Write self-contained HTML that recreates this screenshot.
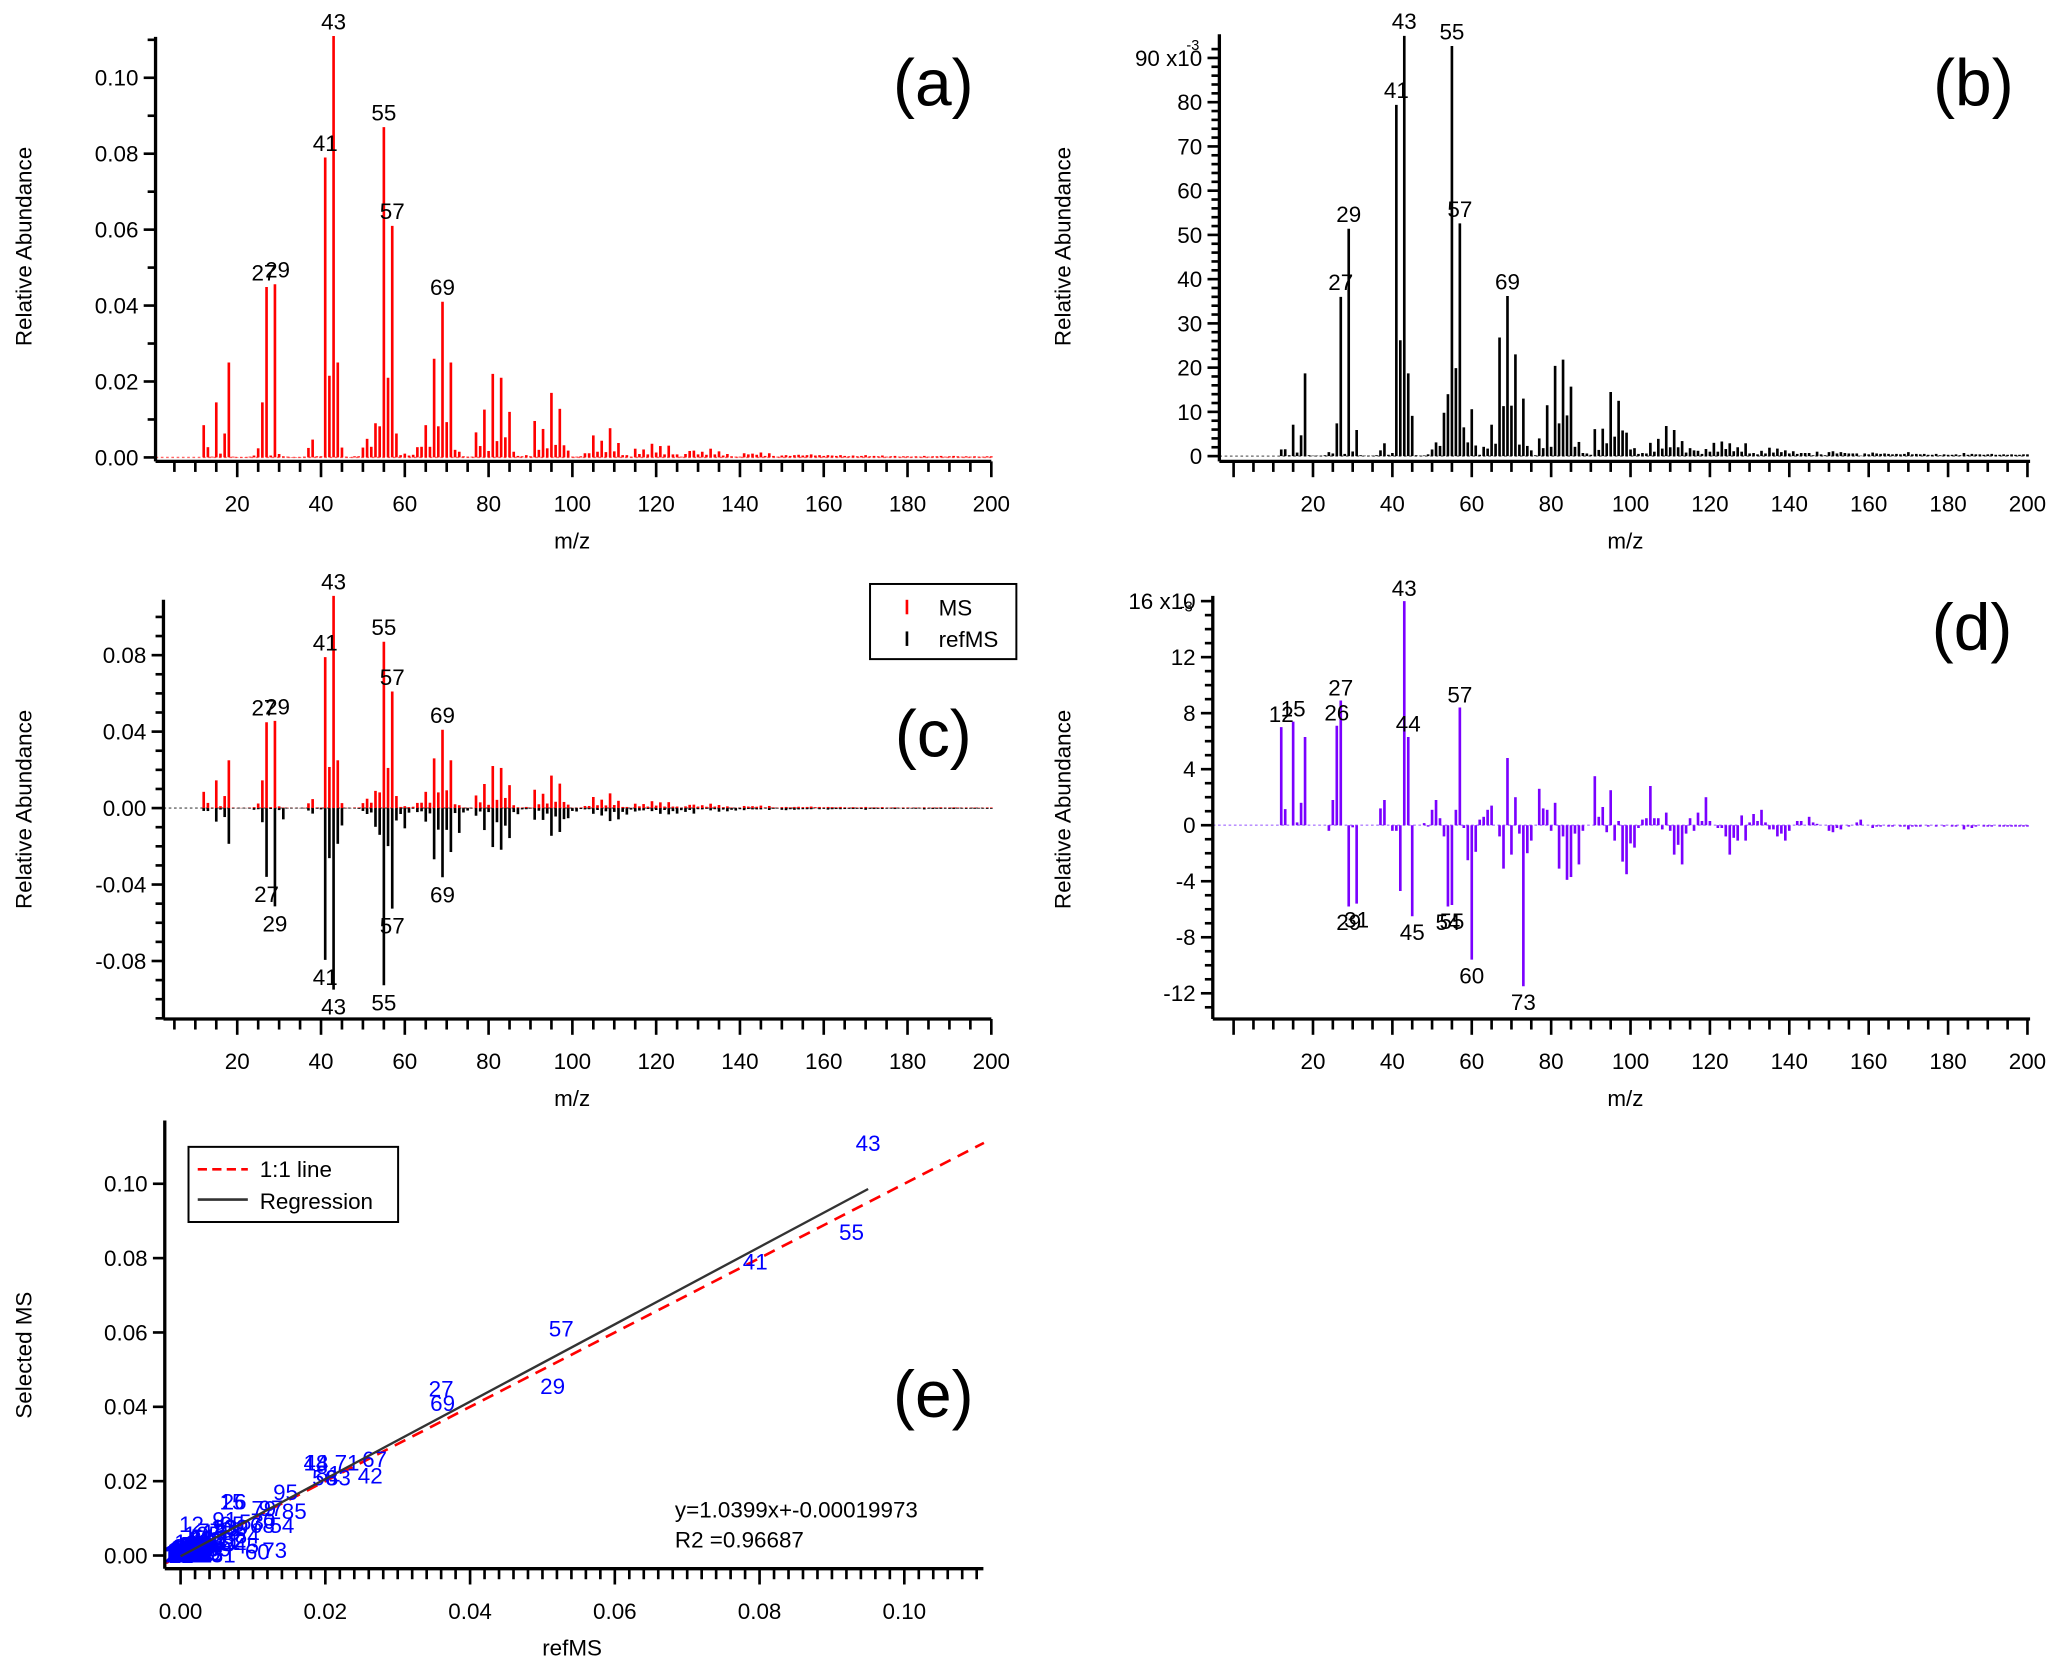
<!DOCTYPE html>
<html><head><meta charset="utf-8"><style>
html,body{margin:0;padding:0;background:#fff;}
svg{display:block;font-family:"Liberation Sans",Arial,sans-serif;}
</style></head><body>
<svg id="fig" xmlns="http://www.w3.org/2000/svg" width="2067" height="1676" viewBox="0 0 1568 1271.4" preserveAspectRatio="none"></svg>
<script>
// m/z 12..200
const mzStart = 12;
const msVals = [8.5,2.7,0.2,14.5,1,6.3,25,0.2,0.1,0.1,0.1,0.2,0.5,2.4,14.5,44.9,0.5,45.6,0.9,0.3,0.2,0.1,0.1,0.1,0.2,2.5,4.7,0.3,0.3,79,21.5,111,25,2.6,0.2,0.1,0.3,0.3,2.6,4.9,2.8,9,8.2,87,21,61,6.3,0.6,1,0.5,0.7,2.7,2.8,8.5,2.8,26,8.2,41,9.3,25,2,1.5,0.3,0.2,0.2,6.6,3,12.6,1.7,22,4.3,21,5.3,12,1.5,0.4,0.3,0.6,0.3,9.6,2,7.5,2.4,17,3.3,12.8,3.2,1.8,0.2,0.2,0.3,1.1,1.1,5.8,1.5,4.4,1.4,7.7,1.6,3.8,0.6,0.6,0.2,2.3,0.9,2.1,0.8,3.6,1.3,3,0.8,3.1,0.8,0.8,0.2,0.9,1.7,1.8,0.8,1.5,0.7,2.3,0.8,1.6,0.5,0.9,0.3,0.2,0.2,1.1,0.8,1,0.7,1.3,0.4,1.1,0.4,0.2,0.5,0.6,0.4,0.6,0.7,0.5,0.6,0.8,0.5,0.6,0.4,0.6,0.5,0.4,0.6,0.4,0.3,0.5,0.3,0.4,0.6,0.3,0.4,0.3,0.5,0.2,0.3,0.4,0.2,0.3,0.3,0.2,0.3,0.2,0.4,0.2,0.3,0.3,0.4,0.2,0.3,0.4,0.3,0.2,0.3,0.2,0.3,0.2,0.2,0.3,0.3];
const diffVals = [7.0,1.15,0,7.4,0.2,1.6,6.3,0,0,0,0,0,-0.4,1.8,7.1,8.9,0,-5.8,-0.15,-5.6,0,0,0,0,0,1.2,1.8,0,-0.4,-0.4,-4.7,16,6.3,-6.5,0,0,0.15,-0.1,1.1,1.8,0.5,-0.8,-5.8,-5.7,1.1,8.4,-0.2,-2.5,-9.6,-1.9,0.4,0.6,1.1,1.4,0,-0.8,-3.1,4.8,-2.1,2.0,-0.6,-11.5,-2,-1.1,0,2.6,1.2,1.1,-0.4,1.6,-3.1,-0.8,-3.9,-3.7,-0.6,-2.8,-0.4,0,0,3.5,0.6,1.3,-0.5,2.5,-1.1,0.3,-2.6,-3.5,-1.3,-1.6,-0.2,0.4,0.5,2.8,0.5,0.5,-0.3,0.9,-0.4,-2.1,-1.4,-2.8,-0.6,0.5,-0.4,0.9,0.3,2.0,0.3,0,-0.2,-0.2,-0.8,-2.1,-0.9,-1.1,0.7,-1.1,0.2,0.8,0.3,1.1,0.2,-0.3,-0.3,-0.8,-0.6,-1.1,-0.4,0,0.3,0.3,0,0.6,0.2,0.1,0,0,-0.4,-0.5,-0.2,-0.3,0,-0.1,0,0.2,0.4,0,0,-0.2,-0.1,-0.1,0,-0.1,-0.1,0,-0.1,-0.1,-0.3,-0.1,-0.1,-0.1,0,-0.1,0,-0.1,0,-0.1,0,-0.1,-0.1,0,-0.3,-0.1,-0.2,-0.1,0,-0.1,-0.1,-0.1,0,-0.1,-0.1,-0.1,-0.1,-0.1,-0.1,-0.1,-0.1];
const labelsA = [27,29,41,43,55,57,69];
const labelsDpos = [12,15,26,27,43,44,57];
const labelsDneg = [29,31,45,54,55,60,73];
const regSlope = 1.0399;
const regIntercept = -0.00019973;
const r2Text = "R2 =0.96687";

const NS='http://www.w3.org/2000/svg';
const svg=document.getElementById('fig');
function mk(tag,attrs,parent){const e=document.createElementNS(NS,tag);for(const k in attrs)e.setAttribute(k,attrs[k]);(parent||svg).appendChild(e);return e;}
function txt(s,x,y,size,anchor,color,parent,extra){const t=mk('text',Object.assign({x:x,y:y,'font-size':size,'text-anchor':anchor||'middle',fill:color||'#000'},extra||{}),parent);t.textContent=s;return t;}
const msArr = msVals.map((v,i)=>({m:mzStart+i,v:v}));
function refOf(i){return Math.max(0,msVals[i]-diffVals[i]);}

function xAxisMz(g,xs,x0,x1,y){
  const l=mk('line',{x1:x0,y1:y,x2:x1,y2:y,stroke:'#000','stroke-width':2.5},g);
  
  
  for(let m=0;m<=200;m+=5){const px=xs(m);if(px<x0+2)continue;const major=m%20===0;
    mk('line',{x1:px,y1:y,x2:px,y2:y+(major?12:8),stroke:'#000','stroke-width':2},g);
    if(major&&m>0){const t=txt(String(m),px,y+38,17,'middle','#000',g);
      
      }}
}
function yAxis(g,ys,x,yT,yB,vals,majorStep,fmt,minorStep){
  const l=mk('line',{x1:x,y1:yT,x2:x,y2:yB,stroke:'#000','stroke-width':2.5},g);
  
  
  const lo=vals[0],hi=vals[1];
  for(let k=Math.ceil(lo/minorStep-1e-9);k*minorStep<=hi+1e-9;k++){const v=k*minorStep;const py=ys(v);if(py<yT||py>yB)continue;
    const major=Math.abs(v/majorStep-Math.round(v/majorStep))<1e-6;
    mk('line',{x1:x-(major?9:6),y1:py,x2:x,y2:py,stroke:'#000','stroke-width':2},g);
    if(major){const t=txt(fmt(v),x-13,py+6,17,'end','#000',g);
      
      }}
}
function ytitle(s,x,y,g){const t=txt(s,x,y,17,'middle','#000',g,{transform:`rotate(-90 ${x} ${y})`});}
function xtitle(s,x,y,g){const t=txt(s,x,y,17,'middle','#000',g);}
function letter(s,x,y,g){const t=txt(s,x,y,50,'middle','#000',g);}

const xsA=m=>116.4+m*3.178, xsB=m=>935.8+m*3.011;

// ---- Panel A
{const g=mk('g',{});
 const ys=v=>347-v*2.88;
 mk('line',{x1:118,y1:347,x2:752,y2:347,stroke:'#f66','stroke-width':1,'stroke-dasharray':'2,2'},g);
 msArr.forEach(d=>{const b=mk('line',{x1:xsA(d.m),y1:ys(0),x2:xsA(d.m),y2:ys(d.v),stroke:'#f00','stroke-width':2},g);
   
   });
 labelsA.forEach(m=>{const v=msVals[m-mzStart];const off=m===27?-2:(m===29?2:0);txt(String(m),xsA(m)+off,ys(v)-5,17,'middle','#000',g);});
 yAxis(g,v=>347-v*2880,118,28,350,[0,0.11],0.02,v=>v.toFixed(2),0.01);
 xAxisMz(g,xsA,118,752,350);
 ytitle('Relative Abundance',24,187,g);xtitle('m/z',434,416,g);letter('(a)',708,80,g);}

// ---- Panel B
{const g=mk('g',{});
 const ys=v=>346-v*3.356;
 mk('line',{x1:925,y1:346,x2:1540,y2:346,stroke:'#666','stroke-width':1,'stroke-dasharray':'2,2'},g);
 msArr.forEach((d,i)=>{const b=mk('line',{x1:xsB(d.m),y1:ys(0),x2:xsB(d.m),y2:ys(refOf(i)),stroke:'#000','stroke-width':2},g);
   
   });
 labelsA.forEach(m=>{const v=refOf(m-mzStart);txt(String(m),xsB(m),ys(v)-5,17,'middle','#000',g);});
 yAxis(g,ys,925,26,350,[0,92],10,v=>v===90?'90 x10':String(Math.round(v)),2);
 txt('-3',900,38,11,'start','#000',g);
 xAxisMz(g,xsB,925,1540,350);
 ytitle('Relative Abundance',812,187,g);xtitle('m/z',1233,416,g);letter('(b)',1497,80,g);}

// ---- Panel C
{const g=mk('g',{});
 const ys=v=>613-v*1.45;
 mk('line',{x1:124,y1:613,x2:752,y2:613,stroke:'#666','stroke-width':1,'stroke-dasharray':'2,2'},g);
 msArr.forEach((d,i)=>{const b=mk('line',{x1:xsA(d.m),y1:ys(0),x2:xsA(d.m),y2:ys(d.v),stroke:'#f00','stroke-width':2},g);
   
   
   const r=mk('line',{x1:xsA(d.m),y1:ys(0),x2:xsA(d.m),y2:ys(-refOf(i)),stroke:'#000','stroke-width':2},g);
   
   });
 labelsA.forEach(m=>{const v=msVals[m-mzStart];const off=m===27?-2:(m===29?2:0);txt(String(m),xsA(m)+off,ys(v)-5,17,'middle','#000',g);
   const rv=refOf(m-mzStart);txt(String(m),xsA(m),ys(-rv)+19,17,'middle','#000',g);});
 yAxis(g,v=>613-v*1450,124,455,773,[-0.11,0.11],0.04,v=>v.toFixed(2),0.01);
 xAxisMz(g,xsA,124,752,773);
 ytitle('Relative Abundance',24,614,g);xtitle('m/z',434,839,g);letter('(c)',708,574,g);
 const lg=mk('g',{},g);
 mk('rect',{x:660,y:443,width:111,height:57,fill:'#fff',stroke:'#000','stroke-width':1.5},lg);
 mk('line',{x1:688,y1:455,x2:688,y2:466,stroke:'#f00','stroke-width':2},lg);
 txt('MS',712,467,17,'start','#000',lg);
 mk('line',{x1:688,y1:479,x2:688,y2:490,stroke:'#000','stroke-width':2},lg);
 txt('refMS',712,491,17,'start','#000',lg);}

// ---- Panel D
{const g=mk('g',{});
 const ys=v=>626-v*10.625;
 mk('line',{x1:920,y1:626,x2:1540,y2:626,stroke:'#b080ff','stroke-width':1,'stroke-dasharray':'2,2'},g);
 diffVals.forEach((v,i)=>{const m=mzStart+i;const b=mk('line',{x1:xsB(m),y1:ys(0),x2:xsB(m),y2:ys(v),stroke:'#7a00ff','stroke-width':2},g);
   
   });
 labelsDpos.forEach(m=>{const v=diffVals[m-mzStart];txt(String(m),xsB(m),ys(v)-4,17,'middle','#000',g);});
 labelsDneg.forEach(m=>{const v=diffVals[m-mzStart];txt(String(m),xsB(m),ys(v)+18,17,'middle','#000',g);});
 yAxis(g,ys,920,452,773,[-14.5,16],4,v=>v===16?'16 x10':String(Math.round(v)),1);
 txt('-3',895,464,11,'start','#000',g);
 xAxisMz(g,xsB,920,1540,773);
 ytitle('Relative Abundance',812,614,g);xtitle('m/z',1233,839,g);letter('(d)',1496,493,g);}

// ---- Panel E
{const g=mk('g',{});
 const xs=r=>137+r*5490, ys=s=>1180-s*2820;
 const one=mk('line',{x1:xs(-0.002),y1:ys(-0.002),x2:xs(0.111),y2:ys(0.111),stroke:'#f00','stroke-width':2,'stroke-dasharray':'9,6'},g);
 
 
 msVals.forEach((v,i)=>{const r=refOf(i);
   const t=txt(String(mzStart+i),xs(r/1000),ys(v/1000)+6,17,'middle','#00f',g);
   
   });
 const rg=mk('line',{x1:xs(0),y1:ys(regIntercept),x2:xs(0.095),y2:ys(regSlope*0.095+regIntercept),stroke:'#333','stroke-width':1.8},g);
 
 
 yAxis(g,ys,125,850,1190,[-0.003,0.117],0.02,v=>v.toFixed(2),0.02);
 const xl=mk('line',{x1:125,y1:1190,x2:746,y2:1190,stroke:'#000','stroke-width':2.5},g);
 
 
 for(let k=-1;k<=55;k++){const v=k*0.002;const px=xs(v);if(px<127||px>746)continue;const major=k%10===0;
   mk('line',{x1:px,y1:1190,x2:px,y2:1190+(major?12:8),stroke:'#000','stroke-width':2},g);
   if(major)txt(v.toFixed(2),px,1228,17,'middle','#000',g);}
 ytitle('Selected MS',24,1028,g);xtitle('refMS',434,1256,g);letter('(e)',708,1075,g);
 txt('y=1.0399x+-0.00019973',512,1151,17,'start','#000',g);
 txt(r2Text,512,1174,17,'start','#000',g);
 const lg=mk('g',{},g);
 mk('rect',{x:143,y:870,width:159,height:57,fill:'#fff',stroke:'#000','stroke-width':1.5},lg);
 mk('line',{x1:150,y1:887,x2:188,y2:887,stroke:'#f00','stroke-width':2,'stroke-dasharray':'7,4'},lg);
 txt('1:1 line',197,893,17,'start','#000',lg);
 mk('line',{x1:150,y1:910,x2:188,y2:910,stroke:'#333','stroke-width':2},lg);
 txt('Regression',197,917,17,'start','#000',lg);}
</script>
</body></html>
